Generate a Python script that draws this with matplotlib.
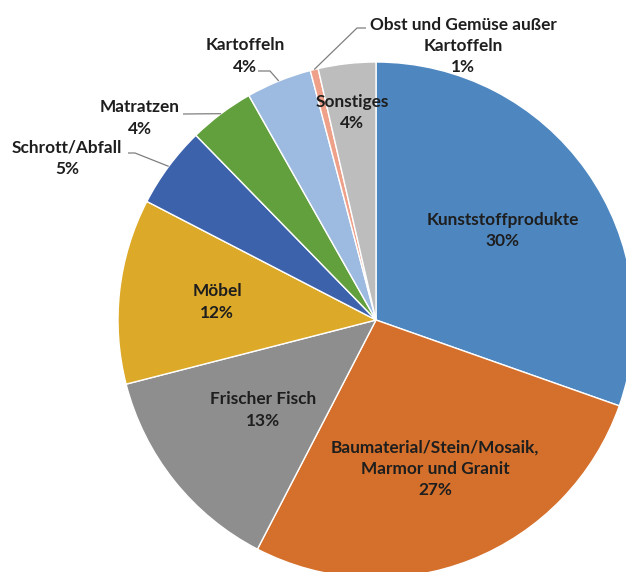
import numpy as np
import matplotlib.pyplot as plt

# Data
categories = ["Kunststoffprodukte", "Baumaterial/Stein/Mosaik,\nMarmor und Granit",
              "Frischer Fisch", "Möbel", "Schrott/Abfall", "Matratzen",
              "Kartoffeln", "Obst und Gemüse außer\nKartoffeln", "Sonstiges"]
values = [30.4, 27.2, 13.4, 11.6, 5.1, 4.1, 4.1, 0.5, 3.6]
pct_labels = ["30%", "27%", "13%", "12%", "5%", "4%", "4%", "1%", "4%"]
colors = ["#4E87C0", "#D4702B", "#8E8E8E", "#DCA928", "#3C62AC",
          "#62A03E", "#9DBAE0", "#EEA089", "#BDBDBD"]

W, H = 626, 572
cx, cy, R = 376, H - 320, 258

plt.rcParams['font.family'] = ['Lato', 'DejaVu Sans']

fig = plt.figure(figsize=(W / 100, H / 100), dpi=100)
ax = fig.add_axes([0, 0, 1, 1])
wedges, _ = ax.pie(values, colors=colors, startangle=90, counterclock=False,
                   center=(cx, cy), radius=R,
                   wedgeprops=dict(edgecolor="white", linewidth=1.0))
ax.set_xlim(0, W)
ax.set_ylim(0, H)
ax.set_aspect("equal")
ax.axis("off")

# inside labels: radial distance as fraction of radius
inside = {0: 0.6, 1: 0.62, 2: 0.56, 3: 0.62, 8: 0.81}
# outside labels: text position (image px) and leader elbow (image px)
outside = {
    4: ((67, 158), (135, 153), (128, 153)),
    5: ((140, 118), (183, 114), (183, 114)),
    6: ((245, 56), (270, 71), (258, 71)),
    7: ((463, 46), (357, 28), (366, 28)),
}

txt = dict(fontsize=12.4, fontweight="bold", color="#1E1E1E",
           ha="center", va="center", linespacing=1.4)

for i, w in enumerate(wedges):
    mid = np.deg2rad((w.theta1 + w.theta2) / 2)
    label = categories[i] + "\n" + pct_labels[i]
    if i in inside:
        r = inside[i] * R
        ax.text(cx + r * np.cos(mid), cy + r * np.sin(mid), label, **txt)
    else:
        (tx, ty), (ex, ey), (hx, hy) = outside[i]
        ax.text(tx, H - ty, label, **txt)
        px, py = cx + R * np.cos(mid), cy + R * np.sin(mid)
        ax.plot([px, ex, hx], [py, H - ey, H - hy], color="#7F7F7F",
                linewidth=0.9, solid_capstyle="butt")

fig.savefig("out.png", dpi=100)
